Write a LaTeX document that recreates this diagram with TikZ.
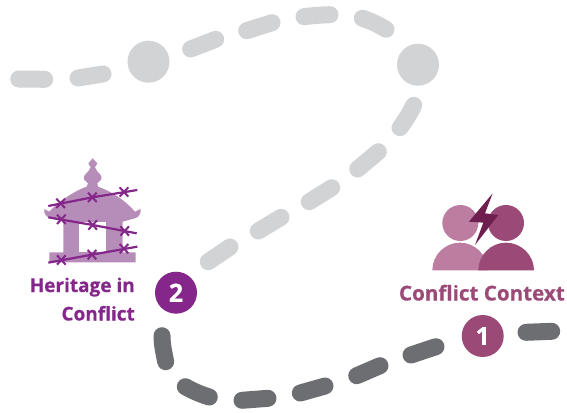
\documentclass[tikz,border=0pt]{standalone}
\usepackage{fontspec}
\setmainfont{Open Sans}[BoldFeatures={FakeBold=0.5}]
\definecolor{lightgrey}{HTML}{D1D3D4}
\definecolor{darkgrey}{HTML}{6D6E71}
\definecolor{plum}{HTML}{9B4A78}
\definecolor{plumlight}{HTML}{BC7DA0}
\definecolor{plumdark}{HTML}{6E1F50}
\definecolor{violet}{HTML}{84268A}
\definecolor{templecol}{HTML}{B68DB8}
\tikzset{
  dashlight/.style={line width=17pt,line cap=round,draw=lightgrey},
  dashdark/.style={line width=17pt,line cap=round,draw=darkgrey},
  stopgrey/.style={circle,fill=lightgrey,minimum size=42pt,inner sep=0pt},
  numdot/.style={circle,minimum size=42pt,inner sep=0pt,text=white,font=\bfseries\fontsize{25}{25}\selectfont},
  wire/.style={draw=violet,line width=2.2pt},
  barb/.style={draw=violet,line width=2pt},
  heading/.style={inner sep=0pt,font=\bfseries\fontsize{#1}{24}\selectfont}
}
\newcommand{\barbat}[2]{%
  \draw[barb] (#1-13,#2-14) -- (#1+13,#2+14);
  \draw[barb] (#1-13,#2+14) -- (#1+13,#2-14);
}
\begin{document}
\begin{tikzpicture}[x=1pt,y=-1pt]
\useasboundingbox (0,0) rectangle (567,412);
% light path
\draw[dashlight] (18.7,79) -- (44.7,79.3);
\draw[dashlight] (78,78) -- (103,74);
\node[stopgrey] (stopA) at (148.5,61.7) {};
\draw[dashlight] (190.7,49) -- (215.7,39.3);
\draw[dashlight] (246.7,30.7) -- (272,22.7);
\draw[dashlight] (304,16.7) .. controls (313,15.5) and (321,15) .. (330,14.7);
\draw[dashlight] (362.3,18.3) .. controls (371,21) and (379,25) .. (386,29.3);
\node[stopgrey] (stopB) at (418,64.7) {};
\draw[dashlight] (413.7,105.3) .. controls (410,113) and (405,121) .. (400,127.7);
\draw[dashlight] (378.3,151.7) -- (357.7,169);
\draw[dashlight] (331.7,187.7) -- (309.3,201.7);
\draw[dashlight] (281,217.3) -- (258.3,231);
\draw[dashlight] (230,247) -- (208.3,261.7);
% dark path
\draw[dashdark] (162,335.7) .. controls (162,345) and (164,353) .. (165.7,361.7);
\draw[dashdark] (185.3,386.7) .. controls (193,391) and (201,394.5) .. (209.3,397);
\draw[dashdark] (242,400.3) -- (268,398.3);
\draw[dashdark] (300.3,393) -- (325,386);
\draw[dashdark] (356.7,375.7) -- (380,365.7);
\draw[dashdark] (411,355) -- (436,346.7);
\draw[dashdark] (526,332.3) -- (551.7,331.3);
% numbered stops
\node[numdot,fill=plum] (one) at (482.7,336) {1};
\node[numdot,fill=violet] (two) at (176,292.7) {2};
% labels
\node[heading=20.6,text=plum,anchor=base east] (ctx) at (565,300.5) {Conflict Context};
\node[heading=19,text=violet,anchor=base east] (her1) at (135,292) {Heritage in};
\node[heading=19,text=violet,anchor=base east] (her2) at (135,320.5) {Conflict};
% people
\begin{scope}[shift={(390,180)},x=0.3333pt,y=-0.3333pt]
  \fill[plumlight] (211,129) circle[radius=18pt];
  \fill[plumlight] (127,271) .. controls (127,225) and (165,188) .. (210,188) .. controls (255,188) and (293,225) .. (293,271) -- cycle;
  \fill[plum] (348,129) circle[radius=18pt];
  \fill[plum] (265,271) .. controls (265,225) and (303,188) .. (348,188) .. controls (393,188) and (432,225) .. (432,271) -- cycle;
  \fill[plumdark] (308,40) -- (237,125) -- (280,128) -- (255,195) -- (325,105) -- (285,100) -- cycle;
\end{scope}
% temple
\begin{scope}[shift={(20,140)},x=0.3333pt,y=-0.3333pt]
  \fill[templecol] (218,55) -- (232,70) -- (225,82) -- (232,94)
    .. controls (240,102) and (247,110) .. (244,118) -- (232,130) -- (234,140)
    .. controls (262,150) and (305,170) .. (345,215) -- (362,207)
    .. controls (364,222) and (355,232) .. (345,235) -- (308,245) -- (308,337) -- (347,337) -- (347,367)
    -- (88,367) -- (88,337) -- (130,337) -- (130,245) -- (92,235)
    .. controls (80,232) and (70,222) .. (73,207) -- (88,215)
    .. controls (120,180) and (170,150) .. (200,140) -- (204,130) -- (192,118)
    .. controls (189,110) and (196,102) .. (205,94) -- (212,82) -- (205,70) -- cycle;
  \fill[white] (178,245) rectangle (258,337);
  \draw[wire] (85,198) -- (217,172) -- (352,150);
  \draw[wire] (85,232) -- (218,255) -- (350,280);
  \draw[wire] (85,368) -- (216,344) -- (352,320);
  \barbat{122}{190}\barbat{217}{172}\barbat{312}{156}
  \barbat{124}{238}\barbat{218}{255}\barbat{314}{273}
  \barbat{124}{360}\barbat{216}{344}\barbat{312}{326}
\end{scope}
\end{tikzpicture}
\end{document}
